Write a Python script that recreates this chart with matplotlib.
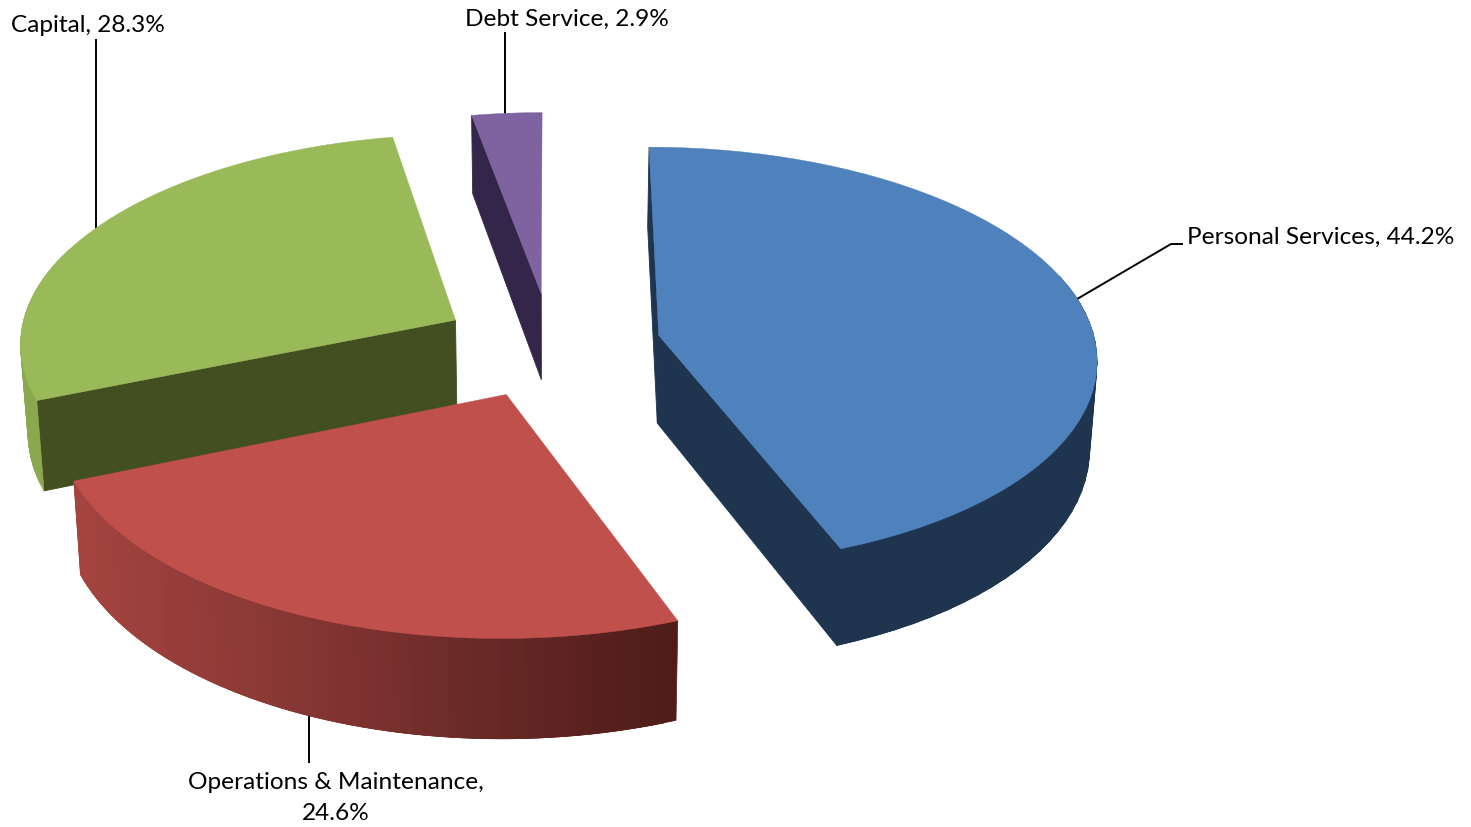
import numpy as np
import matplotlib
matplotlib.use("Agg")
import matplotlib.pyplot as plt
from matplotlib.colors import LinearSegmentedColormap

# --- data ---
categories = ["Personal Services", "Operations & Maintenance", "Capital", "Debt Service"]
shares = [44.2, 24.6, 28.3, 2.9]

# --- styles ---
top_colors = ["#4f81bd", "#bf504c", "#9ab958", "#7f63a1"]
wall_colors = ["#1e344f", "#7a2f2c", "#434f20", "#33264a"]
rim_ramps = [["#1e344f", "#1e344f"],
             ["#a5443f", "#8a3835", "#6a2a28", "#4f1c18"],
             ["#8aa84e", "#8aa84e"],
             ["#33264a", "#33264a"]]
draw_order = [3, 2, 0, 1]
label_text = ["Personal Services, 44.2%", "Operations & Maintenance,\n24.6%",
              "Capital, 28.3%", "Debt Service, 2.9%"]
label_pos = [(1321, 237), (336, 798), (88, 26), (567, 19)]
leaders = [[(1183, 245), (1171, 245), (1072, 303)],
           [(309, 710), (309, 764)],
           [(96, 40), (96, 235)],
           [(505, 33), (505, 120)]]

# --- projection of the exploded pie ---
CX, CY, RX, RY = 551.0, 346.0, 437.0, 209.0
PERSP, EXPLODE, DEPTH, TAPER = 0.10, 0.252, 88.0, 0.986


def project(X, Y, bottom=False):
    s = 1.0 / (1.0 + PERSP * np.asarray(Y))
    x = RX * np.asarray(X) * s
    y = RY * np.asarray(Y) * s
    if bottom:
        return CX + x * TAPER, CY - y + DEPTH * s
    return CX + x, CY - y


plt.rcParams["font.family"] = ["Lato", "DejaVu Sans"]
fig = plt.figure(figsize=(14.71, 8.28), dpi=100)
ax = fig.add_axes([0, 0, 1, 1])
ax.set_xlim(0, 1471)
ax.set_ylim(828, 0)
ax.axis("off")

fractions = np.array(shares) / np.sum(shares)
edges = np.concatenate([[0], np.cumsum(fractions)]) * 2 * np.pi


def poly(xs, ys, c, z, lw=0.3):
    ax.fill(xs, ys, facecolor=c, edgecolor=c, linewidth=lw, zorder=z)


for order, i in enumerate(draw_order):
    a0, a1 = edges[i], edges[i + 1]
    mid = (a0 + a1) / 2
    ox, oy = EXPLODE * np.sin(mid), EXPLODE * np.cos(mid)
    t = np.linspace(a0, a1, 60)
    X, Y = ox + np.sin(t), oy + np.cos(t)
    z = 2 + order
    tx, ty = project(X, Y)
    bx, by = project(X, Y, bottom=True)
    ax0, ay0 = project(ox, oy)
    bx0, by0 = project(ox, oy, bottom=True)
    # radial walls: only those whose outward normal faces the viewer
    if np.sin(a0) <= 1e-9:
        poly([ax0, tx[0], bx[0], bx0], [ay0, ty[0], by[0], by0], wall_colors[i], z, lw=0.6)
    if np.sin(a1) >= 1e-9:
        poly([ax0, tx[-1], bx[-1], bx0], [ay0, ty[-1], by[-1], by0], wall_colors[i], z, lw=0.6)
    # outer rim: front part only, shaded left to right, bands overlapping
    cmap = LinearSegmentedColormap.from_list("rim", rim_ramps[i])
    span = max(tx.max() - tx.min(), 1)
    for k in range(len(t) - 1):
        if np.cos(t[k]) > 0.3:
            continue
        c = cmap((tx[k] - tx.min()) / span)
        k2 = min(k + 2, len(t) - 1)
        poly([tx[k], tx[k2], bx[k2], bx[k]],
             [ty[k], ty[k2], by[k2], by[k]], c, z, lw=0.5)
    # top face
    poly(np.r_[ax0, tx], np.r_[ay0, ty], top_colors[i], z)

for path in leaders:
    xs, ys = zip(*path)
    ax.plot(xs, ys, color="black", lw=1.4, solid_capstyle="butt", zorder=1)

for txt, (x, y) in zip(label_text, label_pos):
    ax.text(x, y, txt, ha="center", va="center", fontsize=17.6,
            color="black", linespacing=1.6, zorder=10)

fig.savefig("out.png", dpi=100, facecolor="white")
